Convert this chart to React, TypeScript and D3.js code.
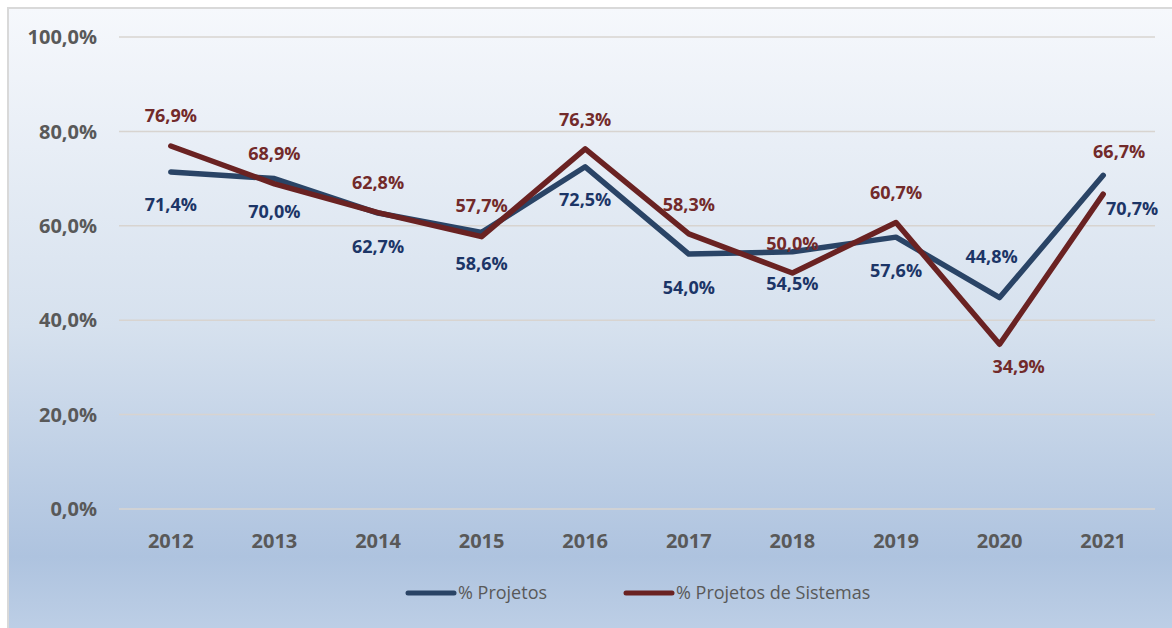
import React from 'react';
import * as d3 from 'd3';

// values
const years = ['2012', '2013', '2014', '2015', '2016', '2017', '2018', '2019', '2020', '2021'];
const projetos = [0.714, 0.700, 0.627, 0.586, 0.725, 0.540, 0.545, 0.576, 0.448, 0.707];
const projetosSistemas = [0.769, 0.689, 0.628, 0.577, 0.763, 0.583, 0.500, 0.607, 0.349, 0.667];
const yTicks = [0, 0.2, 0.4, 0.6, 0.8, 1.0];

// label nudges (manual placement in the original), [dx, dy] from the point
const projetosLabelShift = [[0, 33], [0, 33], [0, 33], [0, 31], [0, 33], [0, 33], [0, 32], [0, 33], [-8, -41], [29, 33]];
const sistemasLabelShift = [[0, -31], [0, -30], [0, -30], [0, -31], [0, -29], [0, -29], [0, -29], [0, -30], [19, 22], [16, -43]];

const series = [
  { name: '% Projetos', values: projetos, line: '#2a4466', label: '#1c3567', shift: projetosLabelShift },
  { name: '% Projetos de Sistemas', values: projetosSistemas, line: '#6a2222', label: '#722a2a', shift: sistemasLabelShift },
];

const W = 1172;
const H = 628;
const margin = { top: 37, right: 17, bottom: 119, left: 119 };

const fmt = (v: number, digits: number) => (v * 100).toFixed(digits).replace('.', ',') + '%';

export default function App() {
  const x = d3.scaleBand<string>().domain(years).range([margin.left, W - margin.right]).padding(0);
  const y = d3.scaleLinear().domain([0, 1]).range([H - margin.bottom, margin.top]);
  const cx = (yr: string) => (x(yr) as number) + x.bandwidth() / 2;

  const line = d3.line<number>()
    .x((_, i) => cx(years[i]))
    .y((d) => y(d));

  const font = '"Open Sans", "DejaVu Sans", sans-serif';

  return (
    <svg width={W} height={H} style={{ position: 'absolute', left: 0, top: 0, display: 'block' }}>
      <defs>
        <linearGradient id="bg" x1="0" y1="0" x2="0" y2="1">
          <stop offset="0" stopColor="#f6f8fc" />
          <stop offset="0.5" stopColor="#d6e1ee" />
          <stop offset="0.86" stopColor="#aec3df" />
          <stop offset="1" stopColor="#c0d1e7" />
        </linearGradient>
      </defs>
      <rect x={8} y={8} width={W + 10} height={H + 10} fill="url(#bg)" stroke="#d9d9d9" strokeWidth={2} />

      {/* gridlines and y axis labels */}
      {yTicks.map((t) => (
        <g key={t}>
          <line x1={margin.left} x2={W - margin.right} y1={y(t)} y2={y(t)} stroke="#d8d4d0" strokeWidth={1.5} />
          <text x={97} y={y(t)} dy="0.36em" textAnchor="end" fontFamily={font} fontWeight="bold"
            fontSize={20} fill="#595959">{fmt(t, 1)}</text>
        </g>
      ))}

      {/* x axis labels */}
      {years.map((yr) => (
        <text key={yr} x={cx(yr)} y={541} dy="0.36em" textAnchor="middle" fontFamily={font}
          fontWeight="bold" fontSize={20} fill="#595959">{yr}</text>
      ))}

      {/* lines */}
      {series.map((s) => (
        <path key={s.name} d={line(s.values) || ''} fill="none" stroke={s.line} strokeWidth={5.5}
          strokeLinejoin="round" strokeLinecap="round" />
      ))}

      {/* data labels */}
      {series.map((s) => s.values.map((v, i) => (
        <text key={s.name + i} x={cx(years[i]) + s.shift[i][0]} y={y(v) + s.shift[i][1]} dy="0.36em"
          textAnchor="middle" fontFamily={font} fontWeight="bold" fontSize={18} fill={s.label}>
          {fmt(v, 1)}
        </text>
      )))}

      {/* legend */}
      {series.map((s, i) => {
        const lx = i === 0 ? 408 : 626;
        return (
          <g key={s.name}>
            <line x1={lx} x2={lx + 46} y1={593} y2={593} stroke={s.line} strokeWidth={5} strokeLinecap="round" />
            <text x={lx + 50} y={593} dy="0.36em" fontFamily={font} fontSize={18} fill="#595959">{s.name}</text>
          </g>
        );
      })}
    </svg>
  );
}
